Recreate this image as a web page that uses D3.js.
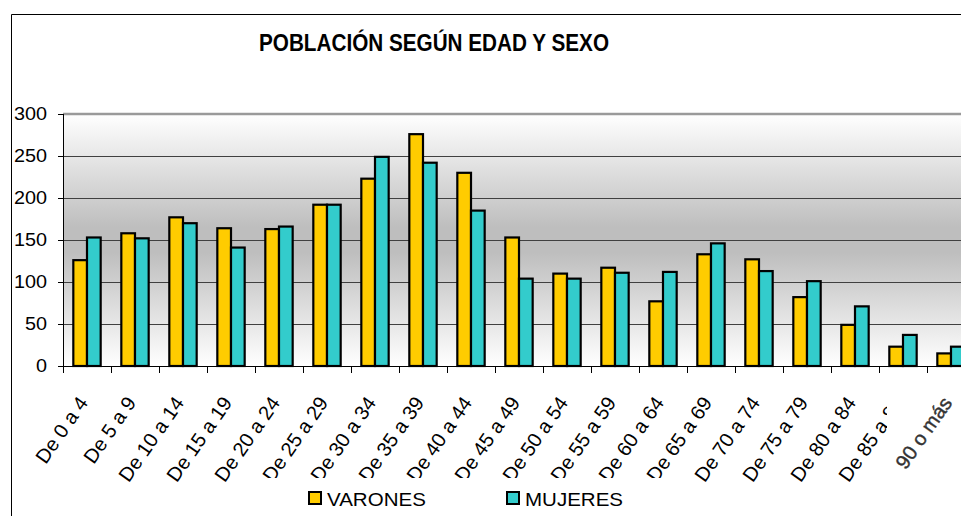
<!DOCTYPE html>
<html>
<head>
<meta charset="utf-8">
<script src="https://cdn.jsdelivr.net/npm/d3@7"></script>
<style>
  body { margin: 0; background: #fff; }
  svg { display: block; font-family: 'Liberation Sans', Arial, sans-serif; }
</style>
</head>
<body>
<div id="chart"></div>
<script>
const categories = ['De 0 a 4', 'De 5 a 9', 'De 10 a 14', 'De 15 a 19', 'De 20 a 24', 'De 25 a 29',
  'De 30 a 34', 'De 35 a 39', 'De 40 a 44', 'De 45 a 49', 'De 50 a 54', 'De 55 a 59',
  'De 60 a 64', 'De 65 a 69', 'De 70 a 74', 'De 75 a 79', 'De 80 a 84', 'De 85 a 89', '90 o más']
const varones = [126, 158, 177, 164, 163, 192, 223, 276, 230, 153, 110, 117, 77, 133, 127, 82, 49, 23, 15]
const mujeres = [153, 152, 170, 141, 166, 192, 249, 242, 185, 104, 104, 111, 112, 146, 113, 101, 71, 37, 23]
const seriesNames = ['VARONES', 'MUJERES']
const yTicks = [0, 50, 100, 150, 200, 250, 300]
const title = 'POBLACIÓN SEGÚN EDAD Y SEXO'

const width = 961, height = 516
const colors = d3.scaleOrdinal().domain(seriesNames).range(['#ffcc00', '#33cccc'])

const plotLeft = 63, plotTop = 114, plotBottom = 366
const step = 48

let svg = d3.select('#chart').append('svg')
  .attr('width', width)
  .attr('height', height)

// stretch text along its baseline
function stretch(sel, k) {
  sel.each(function() {
    let w = this.getComputedTextLength()
    d3.select(this).attr('textLength', w * k).attr('lengthAdjust', 'spacingAndGlyphs')
  })
}

let x0 = d3.scaleBand()
  .domain(categories)
  .range([plotLeft, plotLeft + step * categories.length])
  .paddingInner(0.43)
  .paddingOuter(0.215)

let x1 = d3.scaleBand()
  .domain(seriesNames)
  .range([0, x0.bandwidth()])

let y = d3.scaleLinear().domain([0, 300]).range([plotBottom, plotTop])

// background gradient of plot area
let grad = svg.append('defs').append('linearGradient')
  .attr('id', 'bg')
  .attr('x1', 0).attr('y1', 0).attr('x2', 0).attr('y2', 1)
grad.append('stop').attr('offset', '0%').attr('stop-color', '#ffffff')
grad.append('stop').attr('offset', '45%').attr('stop-color', '#bebebe')
grad.append('stop').attr('offset', '55%').attr('stop-color', '#bebebe')
grad.append('stop').attr('offset', '100%').attr('stop-color', '#ffffff')

// outer frame
svg.append('path')
  .attr('d', 'M11.5,' + height + 'V14.5H' + width)
  .attr('fill', 'none')
  .attr('stroke', '#000')
  .attr('stroke-width', 1)

svg.append('rect')
  .attr('x', plotLeft).attr('y', plotTop)
  .attr('width', width - plotLeft).attr('height', plotBottom - plotTop)
  .attr('fill', 'url(#bg)')

// gridlines
svg.append('g')
  .selectAll('line')
  .data(yTicks.filter(d => d > 0 && d < 300))
  .enter().append('line')
  .attr('x1', plotLeft).attr('x2', width)
  .attr('y1', d => Math.round(y(d)) + 0.5)
  .attr('y2', d => Math.round(y(d)) + 0.5)
  .attr('stroke', '#404040')
  .attr('stroke-width', 1)

svg.append('line')
  .attr('x1', plotLeft).attr('x2', width)
  .attr('y1', y(300)).attr('y2', y(300))
  .attr('stroke', '#9a9a9a')
  .attr('stroke-width', 2.5)

// bars
let rows = categories.map((c, i) => ({ cat: c, values: [varones[i], mujeres[i]] }))

let group = svg.append('g')
  .selectAll('g')
  .data(rows)
  .enter().append('g')
  .attr('transform', d => 'translate(' + x0(d.cat) + ',0)')

group.selectAll('rect')
  .data(d => seriesNames.map((s, j) => ({ key: s, value: d.values[j] })))
  .enter().append('rect')
  .attr('x', d => x1(d.key))
  .attr('y', d => y(d.value))
  .attr('width', x1.bandwidth())
  .attr('height', d => y(0) - y(d.value))
  .attr('fill', d => colors(d.key))
  .attr('stroke', '#000')
  .attr('stroke-width', 2.2)

// y axis
svg.append('line')
  .attr('x1', plotLeft + 0.5).attr('x2', plotLeft + 0.5)
  .attr('y1', plotTop).attr('y2', plotBottom)
  .attr('stroke', '#000')

svg.append('g')
  .selectAll('line')
  .data(yTicks)
  .enter().append('line')
  .attr('x1', plotLeft - 5).attr('x2', plotLeft)
  .attr('y1', d => Math.round(y(d)) + 0.5)
  .attr('y2', d => Math.round(y(d)) + 0.5)
  .attr('stroke', '#000')

svg.append('g')
  .selectAll('text')
  .data(yTicks)
  .enter().append('text')
  .attr('x', 47)
  .attr('y', d => y(d))
  .attr('dy', '0.36em')
  .attr('text-anchor', 'end')
  .attr('font-size', 18)
  .attr('fill', '#000')
  .text(d => d)
  .call(stretch, 1.1)

// x axis
svg.append('line')
  .attr('x1', plotLeft).attr('x2', width)
  .attr('y1', plotBottom + 0.5).attr('y2', plotBottom + 0.5)
  .attr('stroke', '#000')

let bounds = d3.range(categories.length + 1).map(i => plotLeft + i * x0.step())
svg.append('g')
  .selectAll('line')
  .data(bounds)
  .enter().append('line')
  .attr('x1', d => Math.round(d) + 0.5).attr('x2', d => Math.round(d) + 0.5)
  .attr('y1', plotBottom).attr('y2', plotBottom + 7)
  .attr('stroke', '#000')

function labelPos(d) {
  return 'translate(' + (x0(d) + x0.bandwidth() / 2 + 2) + ',403) rotate(-55)'
}

let labels = svg.append('g')
labels.selectAll('text')
  .data(categories.slice(0, -1))
  .enter().append('text')
  .attr('transform', labelPos)
  .attr('text-anchor', 'end')
  .attr('font-size', 20)
  .attr('fill', '#000')
  .text(d => d)

// last label sits over the previous one
let last = categories[categories.length - 1]
svg.append('rect')
  .attr('x', 887).attr('y', 376)
  .attr('width', width - 887).attr('height', 104)
  .attr('fill', '#fff')
svg.append('text')
  .attr('transform', labelPos(last))
  .attr('text-anchor', 'end')
  .attr('font-size', 20)
  .attr('fill', '#333')
  .attr('stroke', '#333')
  .attr('stroke-width', 0.4)
  .text(last)

// title
svg.append('text')
  .attr('x', 259).attr('y', 51)
  .attr('font-size', 23)
  .attr('font-weight', 'bold')
  .attr('textLength', 350)
  .attr('lengthAdjust', 'spacingAndGlyphs')
  .text(title)

// legend
let legend = svg.append('g')
legend.append('rect')
  .attr('x', 255).attr('y', 478)
  .attr('width', 425).attr('height', height - 478)
  .attr('fill', '#fff')

let legendX = [308, 506]
let item = legend.selectAll('g.item')
  .data(seriesNames)
  .enter().append('g')
  .attr('class', 'item')
  .attr('transform', (d, i) => 'translate(' + legendX[i] + ',491)')

item.append('rect')
  .attr('x', 1).attr('y', 1)
  .attr('width', 12).attr('height', 12)
  .attr('fill', d => colors(d))
  .attr('stroke', '#000')
  .attr('stroke-width', 2)

item.append('text')
  .attr('x', 19).attr('y', 14.5)
  .attr('font-size', 19)
  .text(d => d)
  .call(stretch, 1.08)
</script>
</body>
</html>
